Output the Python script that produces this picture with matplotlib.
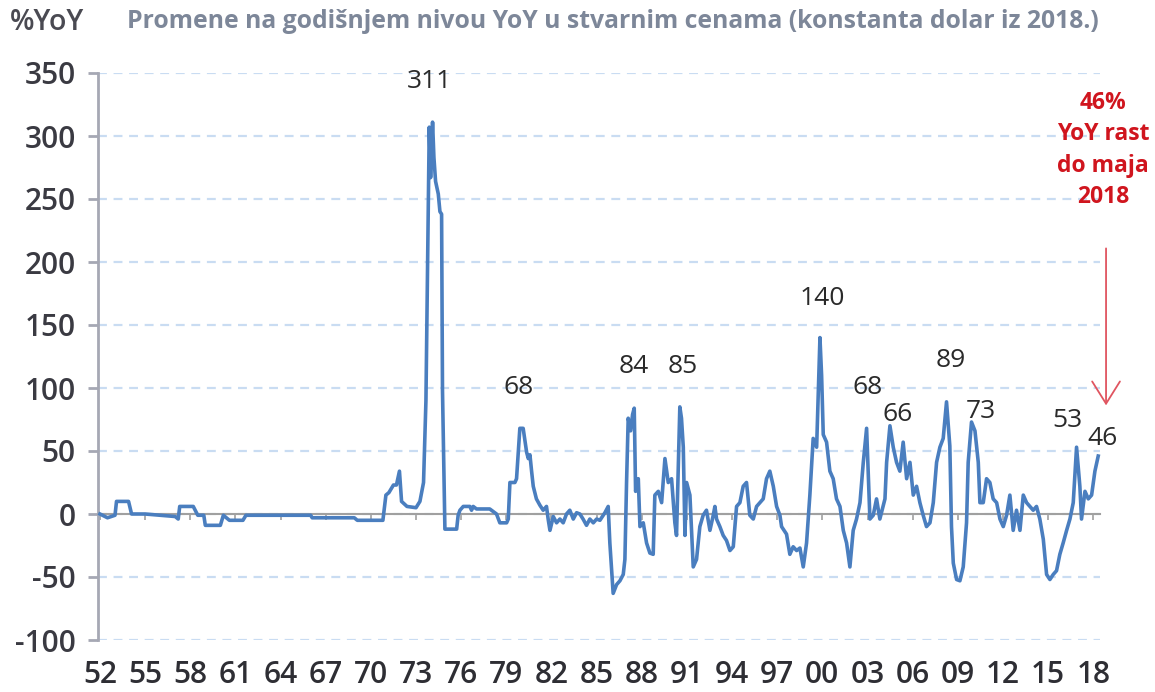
import matplotlib
matplotlib.use('Agg')
import matplotlib.pyplot as plt

# ---- data ----
years = [1952.0, 1952.5, 1953.0, 1953.1, 1953.9, 1954.1, 1955.0, 1956.0, 1957.0, 1957.2,
         1957.3, 1958.2, 1958.5, 1958.9, 1959.0, 1960.0, 1960.2, 1960.6, 1961.5, 1961.7,
         1966.0, 1966.1, 1968.9, 1969.1, 1970.8, 1971.0, 1971.2, 1971.5, 1971.7, 1971.9,
         1972.04, 1972.4, 1973.0, 1973.26, 1973.5, 1973.66, 1973.88, 1973.97, 1974.1, 1974.19,
         1974.3, 1974.48, 1974.59, 1974.7, 1974.76, 1974.92, 1975.7, 1975.8, 1975.92, 1976.14,
         1976.58, 1976.69, 1976.8, 1977.02, 1977.47, 1977.9, 1978.35, 1978.57, 1979.02, 1979.13,
         1979.24, 1979.57, 1979.68, 1979.9, 1980.12, 1980.35, 1980.46, 1980.57, 1980.68, 1980.79,
         1981.0, 1981.23, 1981.45, 1981.67, 1981.78, 1981.9, 1982.12, 1982.34, 1982.56, 1982.78,
         1983.0, 1983.22, 1983.45, 1983.67, 1983.89, 1984.1, 1984.33, 1984.55, 1984.78, 1985.0,
         1985.22, 1985.55, 1985.77, 1985.88, 1986.1, 1986.33, 1986.55, 1986.77, 1986.88, 1986.99,
         1987.1, 1987.26, 1987.39, 1987.5, 1987.59, 1987.77, 1987.88, 1988.1, 1988.32, 1988.54,
         1988.76, 1988.87, 1989.1, 1989.32, 1989.54, 1989.76, 1989.98, 1990.2, 1990.31, 1990.53,
         1990.64, 1990.76, 1990.87, 1990.98, 1991.2, 1991.42, 1991.64, 1991.86, 1992.08, 1992.3,
         1992.53, 1992.75, 1992.86, 1992.97, 1993.19, 1993.41, 1993.63, 1993.86, 1994.08, 1994.3,
         1994.52, 1994.74, 1994.96, 1995.18, 1995.41, 1995.63, 1995.85, 1996.07, 1996.29, 1996.51,
         1996.74, 1996.96, 1997.18, 1997.29, 1997.62, 1997.84, 1998.06, 1998.29, 1998.51, 1998.73,
         1998.95, 1999.17, 1999.39, 1999.62, 1999.84, 1999.95, 2000.06, 2000.28, 2000.5, 2000.72,
         2000.94, 2001.17, 2001.39, 2001.61, 2001.83, 2002.05, 2002.27, 2002.5, 2002.72, 2002.94,
         2003.16, 2003.38, 2003.6, 2003.82, 2004.16, 2004.27, 2004.49, 2004.71, 2004.93, 2005.15,
         2005.37, 2005.6, 2005.82, 2006.04, 2006.26, 2006.48, 2006.7, 2006.92, 2007.15, 2007.37,
         2007.59, 2007.81, 2008.03, 2008.25, 2008.47, 2008.58, 2008.7, 2008.92, 2009.14, 2009.36,
         2009.58, 2009.69, 2009.91, 2010.14, 2010.36, 2010.47, 2010.69, 2010.91, 2011.13, 2011.35,
         2011.58, 2011.8, 2012.02, 2012.24, 2012.46, 2012.68, 2012.9, 2013.13, 2013.35, 2013.57,
         2013.79, 2014.01, 2014.23, 2014.45, 2014.68, 2014.9, 2015.12, 2015.34, 2015.56, 2015.78,
         2016.0, 2016.23, 2016.45, 2016.67, 2016.89, 2017.11, 2017.22, 2017.45, 2017.67, 2017.89,
         2018.11, 2018.33]
yoy = [0, -3, -1, 10, 10, 0, 0, -1, -2, -4,
       6, 6, -1, -1, -9, -9, -1, -5, -5, -1,
       -1, -3, -3, -5, -5, 15, 17, 23, 23, 34,
       10, 6, 5, 10, 25, 90, 307, 267, 311, 283,
       264, 254, 240, 238, 98, -12, -12, -1, 3, 6,
       6, 3, 6, 4, 4, 4, 0, -7, -7, -4,
       25, 25, 28, 68, 68, 49, 44, 47, 34, 22,
       12, 7, 3, 6, -4, -13, -2, -7, -4, -7,
       0, 3, -4, 1, 0, -4, -9, -4, -7, -4,
       -5, 1, 6, -23, -63, -56, -53, -48, -36, 25,
       76, 66, 79, 84, 18, 28, -10, -7, -23, -31,
       -32, 15, 18, 9, 44, 25, 28, -7, -17, 85,
       76, 53, -17, 25, 15, -42, -36, -10, -1, 3,
       -13, -1, 6, -4, -10, -17, -21, -29, -26, 6,
       9, 22, 25, -1, -4, 6, 9, 12, 28, 34,
       22, 6, -1, -10, -16, -32, -26, -29, -27, -42,
       -23, 15, 60, 53, 140, 110, 63, 57, 34, 28,
       12, 6, -13, -23, -42, -13, -4, 9, 41, 68,
       -4, -1, 12, -4, 12, 41, 70, 53, 41, 34,
       57, 28, 41, 15, 22, 9, -1, -10, -7, 9,
       41, 53, 60, 89, 54, -10, -39, -52, -53, -42,
       -7, 41, 73, 66, 41, 9, 9, 28, 25, 12,
       9, -4, -10, -1, 15, -13, 3, -13, 15, 9,
       6, 3, 6, -4, -20, -48, -52, -48, -45, -32,
       -23, -13, -4, 9, 53, 22, -4, 18, 12, 15,
       34, 46]

tick_years = list(range(1952, 2019, 3))
tick_labels = [f"{y % 100:02d}" for y in tick_years]
y_ticks = list(range(-100, 351, 50))

peak_texts = ['311', '68', '84', '85', '140', '68', '66', '89', '73', '53', '46']
peak_anchor_x = [1973.9, 1979.8, 1987.5, 1990.7, 2000.0, 2003.0, 2005.0, 2008.5, 2010.5, 2016.3, 2018.6]
peak_anchor_y = [343, 100, 117, 117, 171, 100, 79, 122, 81, 74, 60]

title_unit = '%YoY'
title_text = 'Promene na godišnjem nivou YoY u stvarnim cenama (konstanta dolar iz 2018.)'
note_text = '46%\nYoY rast\ndo maja\n2018'

# ---- figure ----
W, H = 1155, 692
fig = plt.figure(figsize=(W / 100, H / 100), dpi=100)
ax = fig.add_axes([98 / W, (H - 640) / H, 1002 / W, 567 / H])
ax.set_xlim(1951.87, 1951.87 + 1002 / 15.05)
ax.set_ylim(-100, 350)

line_col = '#4a7ebf'
ax.plot(years, yoy, color=line_col, lw=2.6, solid_joinstyle='round', zorder=3, clip_on=False)

# grid
ax.set_yticks(y_ticks)
ax.yaxis.grid(True, color='#c9dcf2', lw=1.6, linestyle=(0, (4, 3)))
ax.set_axisbelow(True)

# spines
for s in ['top', 'right']:
    ax.spines[s].set_visible(False)
ax.spines['left'].set_color('#a6a8b4')
ax.spines['left'].set_linewidth(2)
ax.spines['bottom'].set_position(('data', 0))
ax.spines['bottom'].set_color('#a0a0a0')
ax.spines['bottom'].set_linewidth(1.5)
ax.spines['bottom'].set_zorder(2)

tick_font = dict(family='Open Sans', size=21.5, weight='semibold')
ax.set_xticks(tick_years)
ax.set_xticklabels(tick_labels, **tick_font, color='#2e2e34')
ax.set_yticklabels([str(v) for v in y_ticks], **tick_font, color='#3a3a42')
ax.tick_params(axis='y', length=7, width=2, color='#a6a8b4', pad=9)
ax.tick_params(axis='x', length=4, width=1.2, color='#a0a0a0', pad=101)

# peak labels
for t, px, py in zip(peak_texts, peak_anchor_x, peak_anchor_y):
    ax.text(px, py, t, ha='center', va='center', family='Open Sans', size=19,
            color='#2a2a2a', clip_on=False, zorder=4)

# red note + arrow
ax.text(2018.65, 289, note_text, ha='center', va='center', family='Open Sans',
        weight='bold', size=16.5, color='#d0151e', linespacing=1.42, clip_on=False)
ax.annotate('', xy=(2018.85, 84), xytext=(2018.85, 213),
            arrowprops=dict(arrowstyle='->,head_length=0.8,head_width=0.5',
                            color='#e05560', lw=1.3, mutation_scale=20),
            annotation_clip=False)

# titles
fig.text(10 / W, 1 - 22 / H, title_unit, ha='left', va='center', family='Open Sans',
         size=20.5, weight='semibold', color='#4a4a52')
fig.text(127 / W, 1 - 22 / H, title_text, ha='left', va='center', family='Open Sans',
         weight='bold', size=17.8, color='#7d8799')

fig.savefig('out.png', dpi=100)
